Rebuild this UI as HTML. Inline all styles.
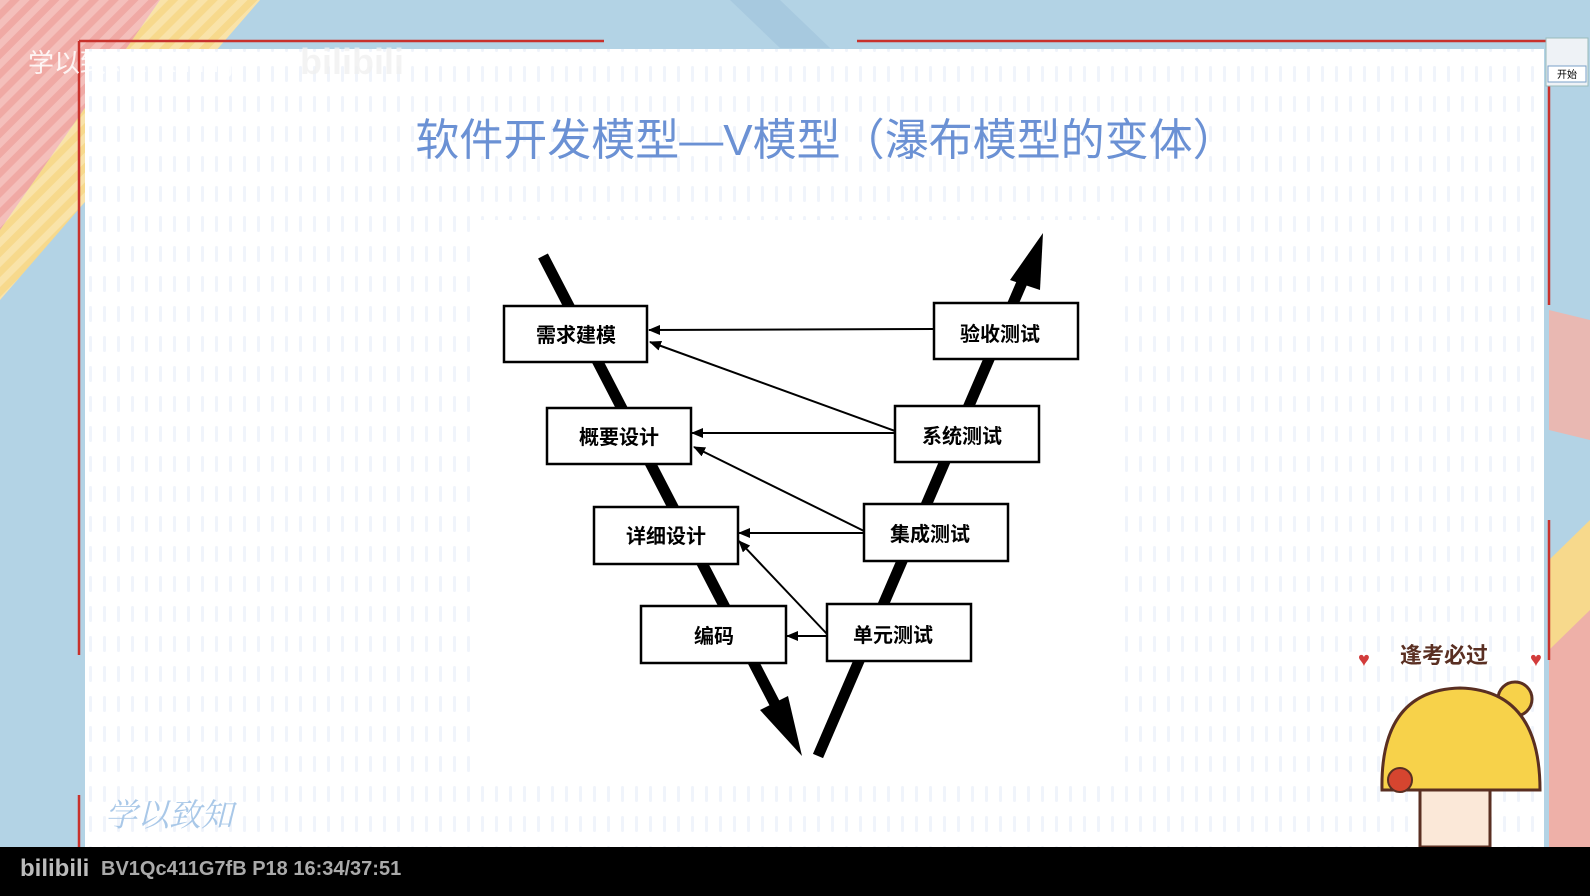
<!DOCTYPE html>
<html><head><meta charset="utf-8"><style>
html,body{margin:0;padding:0;}
body{width:1590px;height:896px;overflow:hidden;position:relative;background:#b3d3e5;font-family:"Liberation Sans","Noto Sans CJK SC",sans-serif;}
</style></head><body>
<svg width="1590" height="896" style="position:absolute;left:0;top:0">
<defs>
<pattern id="st" width="14" height="14" patternUnits="userSpaceOnUse" patternTransform="rotate(45)"><rect width="7" height="14" fill="rgba(255,255,255,0.25)"/></pattern>
<pattern id="dots" width="14" height="30" patternUnits="userSpaceOnUse"><rect x="5" y="6" width="3" height="16" rx="1.5" fill="#eef3fb"/></pattern>
<marker id="ah" markerWidth="12" markerHeight="10" refX="11" refY="5" orient="auto" markerUnits="userSpaceOnUse"><path d="M0,0 L12,5 L0,10 Z" fill="#000"/></marker>
</defs>
<polygon points="0,0 160,0 0,230" fill="#f0a9a4"/>
<polygon points="160,0 260,0 0,300 0,230" fill="#f7d98c"/>
<polygon points="0,0 260,0 0,300" fill="url(#st)"/>
<polygon points="730,0 780,0 830,48 780,48" fill="#a7c9df"/>
<polygon points="1549,560 1590,520 1590,896 1549,896" fill="#f7d98c"/>
<polygon points="1549,650 1590,610 1590,896 1549,896" fill="#eeb0a8"/>
<polygon points="1549,310 1590,320 1590,440 1549,430" fill="#e9b8b2"/>
<rect x="85" y="49" width="1459" height="798" fill="#fff"/>
<rect x="85" y="49" width="1459" height="798" fill="url(#dots)" opacity="0.9"/>
<rect x="480" y="220" width="640" height="560" fill="#fff"/>
<line x1="79" y1="41" x2="604" y2="41" stroke="#c8312c" stroke-width="2.5"/>
<line x1="857" y1="41" x2="1549" y2="41" stroke="#c8312c" stroke-width="2.5"/>
<line x1="79" y1="41" x2="79" y2="655" stroke="#c8312c" stroke-width="2.5"/>
<line x1="79" y1="795" x2="79" y2="847" stroke="#c8312c" stroke-width="2.5"/>
<line x1="1549" y1="41" x2="1549" y2="305" stroke="#c8312c" stroke-width="2.5"/>
<line x1="1549" y1="520" x2="1549" y2="660" stroke="#c8312c" stroke-width="2.5"/>
<line x1="543" y1="256" x2="776" y2="706" stroke="#000" stroke-width="11"/>
<polygon points="802,756 788,696 760,710" fill="#000"/>
<line x1="818" y1="756" x2="1030" y2="264" stroke="#000" stroke-width="11"/>
<polygon points="1043,233 1040,290 1010,280" fill="#000"/>
<g stroke="#000" stroke-width="2" fill="none" marker-end="url(#ah)">
<line x1="934" y1="329" x2="649" y2="330"/>
<line x1="895" y1="431" x2="650" y2="342"/>
<line x1="895" y1="433" x2="692" y2="433"/>
<line x1="864" y1="531" x2="694" y2="447"/>
<line x1="864" y1="533" x2="739" y2="533"/>
<line x1="827" y1="634" x2="739" y2="541"/>
<line x1="827" y1="636" x2="787" y2="636"/>
</g>
<g fill="#fff" stroke="#000" stroke-width="2.5">
<rect x="504" y="306" width="143" height="56"/>
<rect x="547" y="408" width="144" height="56"/>
<rect x="594" y="507" width="144" height="57"/>
<rect x="641" y="606" width="145" height="57"/>
<rect x="934" y="303" width="144" height="56"/>
<rect x="895" y="406" width="144" height="56"/>
<rect x="864" y="504" width="144" height="57"/>
<rect x="827" y="604" width="144" height="57"/>
</g>
<g font-family="'Liberation Sans','Noto Sans CJK SC',sans-serif" font-size="20" font-weight="bold" text-anchor="middle" fill="#000">
<text x="576" y="342">需求建模</text>
<text x="619" y="444">概要设计</text>
<text x="666" y="543">详细设计</text>
<text x="714" y="643">编码</text>
<text x="1000" y="341">验收测试</text>
<text x="962" y="443">系统测试</text>
<text x="930" y="541">集成测试</text>
<text x="893" y="642">单元测试</text>
</g>
<text x="826" y="155" text-anchor="middle" font-family="'Liberation Sans','Noto Sans CJK SC',sans-serif" font-size="44" fill="#6b91d4">软件开发模型—V模型（瀑布模型的变体）</text>
<text x="28" y="72" font-family="'Liberation Sans','Noto Sans CJK SC',sans-serif" font-size="26" fill="rgba(255,255,255,0.85)">学以致知Learning</text>
<text x="300" y="74" font-family="'Liberation Sans',sans-serif" font-size="36" font-weight="bold" fill="rgba(240,240,240,0.8)">bilibili</text>
<text x="105" y="826" font-family="'Liberation Serif','Noto Serif CJK SC',serif" font-size="32" font-style="italic" fill="#a9c8e8">学以致知</text>
<text x="1400" y="663" font-family="'Liberation Sans','Noto Sans CJK SC',sans-serif" font-size="22" font-weight="bold" fill="#5a2f22">逢考必过</text>
<text x="1358" y="666" font-size="20" fill="#d23b3b">♥</text>
<text x="1530" y="666" font-size="20" fill="#d23b3b">♥</text>
<circle cx="1515" cy="699" r="17" fill="#f7d24a" stroke="#5a2f22" stroke-width="3"/>
<path d="M1382,790 Q1380,690 1460,688 Q1540,690 1540,790 Z" fill="#f7d24a" stroke="#5a2f22" stroke-width="3"/>
<rect x="1420" y="790" width="70" height="57" fill="#fbe8d8" stroke="#5a2f22" stroke-width="3"/>
<circle cx="1400" cy="780" r="12" fill="#d6452f" stroke="#5a2f22" stroke-width="2"/>
<rect x="0" y="847" width="1590" height="49" fill="#000"/>
<text x="20" y="876" font-family="'Liberation Sans',sans-serif" font-size="24" font-weight="bold" fill="#bbb">bilibili</text>
<text x="101" y="875" font-family="'Liberation Sans',sans-serif" font-size="20" font-weight="bold" fill="#aaa">BV1Qc411G7fB P18 16:34/37:51</text>
<rect x="1546" y="38" width="42" height="48" fill="#eef2f6" stroke="#9bb" stroke-width="1"/>
<rect x="1548" y="66" width="38" height="16" fill="#fff" stroke="#7aa0c8"/>
<text x="1567" y="78" font-size="10" text-anchor="middle" font-family="'Noto Sans CJK SC',sans-serif">开始</text>
</svg>
</body></html>
